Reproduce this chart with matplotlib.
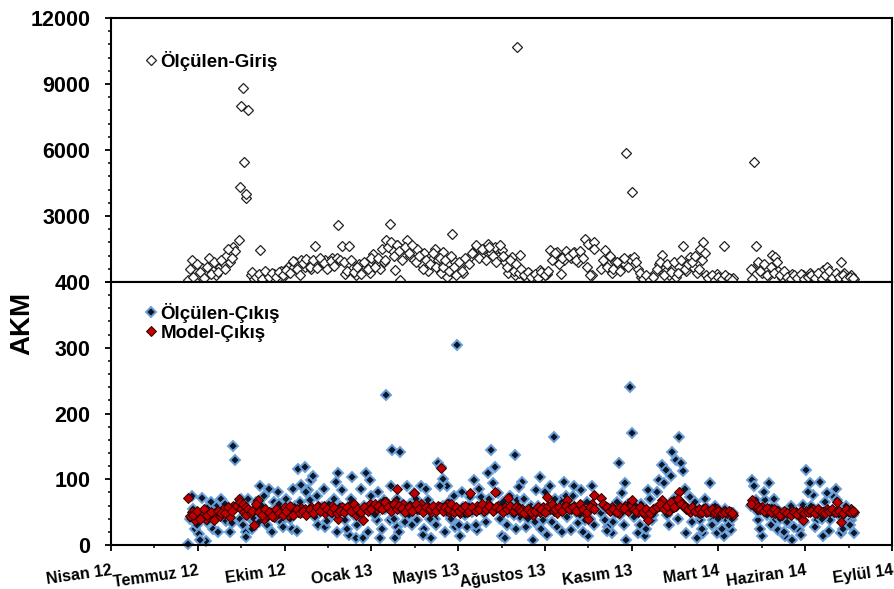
import matplotlib
matplotlib.use("Agg")
import matplotlib.pyplot as plt
import matplotlib.dates as mdates
from matplotlib.ticker import MultipleLocator
import numpy as np

plt.rcParams["font.family"] = ["Liberation Sans", "DejaVu Sans"]
plt.rcParams["font.weight"] = "bold"

# axis start (Excel date axis, major unit 100 days)
start = np.datetime64("2012-04-01")
tick_labels = ["Nisan 12", "Temmuz 12", "Ekim 12", "Ocak 13", "Mayıs 13",
               "Ağustos 13", "Kasım 13", "Mart 14", "Haziran 14", "Eylül 14"]

# sample dates as days after 2012-04-01
days = [89, 93, 97, 101, 105, 109, 113, 117, 121, 125,
        129, 133, 137, 141, 143, 147, 149, 150, 152, 153,
        155, 156, 158, 161, 165, 169, 172, 176, 180, 184,
        188, 192, 196, 200, 204, 208, 212, 216, 219, 223,
        227, 231, 235, 239, 243, 247, 251, 255, 259, 262,
        266, 270, 274, 278, 282, 286, 290, 294, 298, 302,
        306, 310, 314, 317, 321, 324, 327, 330, 333, 337,
        341, 345, 349, 353, 357, 361, 365, 369, 373, 377,
        380, 383, 387, 390, 393, 396, 399, 402, 406, 410,
        414, 418, 422, 426, 430, 434, 438, 442, 446, 450,
        454, 458, 462, 465, 468, 471, 474, 478, 482, 486,
        490, 494, 498, 502, 506, 510, 514, 518, 522, 526,
        530, 534, 538, 542, 546, 550, 554, 557, 565, 569,
        573, 577, 581, 585, 589, 592, 594, 596, 598, 600,
        603, 607, 611, 615, 619, 623, 627, 631, 635, 639,
        643, 647, 651, 655, 659, 663, 667, 671, 675, 679,
        682, 686, 690, 694, 698, 702, 706, 710, 714, 717,
        739, 741, 743, 746, 750, 754, 758, 762, 765, 769,
        773, 777, 781, 785, 789, 793, 797, 801, 805, 809,
        813, 817, 821, 825, 829, 833, 837, 841, 845, 849, 853, 856,
        # in-between readings
        91, 95, 99, 103, 107, 111, 115, 119, 123, 127,
        131, 135, 139, 163, 167, 171, 174, 178, 182, 186,
        190, 194, 198, 202, 206, 210, 214, 218, 221, 225,
        229, 233, 237, 241, 245, 249, 253, 257, 260, 264,
        268, 272, 276, 280, 284, 288, 292, 296, 300, 304,
        308, 312, 316, 319, 323, 326, 329, 332, 335, 339,
        343, 347, 351, 355, 359, 363, 367, 371, 375, 379,
        382, 385, 389, 392, 395, 398, 401, 404, 408, 412,
        416, 420, 424, 428, 432, 436, 440, 444, 448, 452,
        456, 460, 464, 467, 470, 473, 476, 480, 484, 488,
        492, 496, 500, 504, 508, 512, 516, 520, 524, 528,
        532, 536, 540, 544, 548, 552, 556, 567, 571, 575,
        579, 583, 587, 591, 605, 609, 613, 617, 621, 625,
        629, 633, 637, 641, 645, 649, 653, 657, 661, 665,
        669, 673, 677, 681, 684, 688, 692, 696, 700, 704,
        708, 712, 716, 737, 745, 748, 752, 756, 760, 764,
        767, 771, 775, 779, 783, 787, 791, 795, 799, 803,
        807, 811, 815, 819, 823, 827, 831, 835, 839, 843, 847, 851, 855]

giris = [100, 985, 450, 300, 650, 380, 1100, 520, 300, 700,
         850, 1200, 900, 1590, 1400, 1900, 4300, 8000, 8800, 5450,
         3800, 4000, 7800, 300, 150, 200, 1450, 250, 400, 150,
         350, 200, 500, 300, 700, 600, 900, 750, 1000, 700,
         950, 600, 1636, 800, 900, 1000, 700, 1100, 900, 2575,
         1636, 380, 1636, 600, 300, 800, 500, 700, 400, 1288,
         800, 600, 900, 1890, 2650, 1440, 530, 1670, 75, 1500,
         1890, 1200, 985, 1500, 800, 1300, 500, 1000, 1515, 985,
         400, 1364, 230, 800, 2200, 900, 500, 700, 400, 1000,
         1136, 1400, 1600, 1200, 1500, 1740, 1300, 1600, 1136, 1440,
         900, 400, 1136, 300, 10700, 1212, 500, 200, 400, 150,
         300, 530, 250, 350, 1440, 1288, 1364, 380, 1000, 1300,
         1100, 1364, 900, 1200, 1970, 1740, 300, 1818, 600, 1440,
         800, 400, 900, 600, 1000, 800, 5850, 700, 1060, 4100,
         1136, 600, 230, 150, 75, 200, 400, 830, 1212, 500,
         300, 600, 230, 700, 1620, 500, 1136, 700, 400, 1515,
         1818, 300, 200, 150, 380, 100, 1620, 250, 150, 200,
         150, 5450, 1620, 830, 400, 600, 300, 1212, 1136, 500,
         200, 300, 150, 380, 250, 100, 300, 200, 400, 150,
         300, 200, 530, 680, 250, 150, 300, 900, 400, 200, 300, 150,
         # in-between readings
         600, 250, 800, 450, 200, 700, 350, 900, 450, 1000,
         600, 1500, 1100, 450, 250, 350, 150, 500, 250, 400,
         250, 450, 300, 550, 400, 950, 600, 300, 850, 1050,
         700, 1000, 650, 1100, 850, 600, 950, 750, 1100, 1000,
         900, 500, 1000, 450, 700, 350, 900, 600, 1100, 700,
         1100, 1500, 1000, 1600, 1800, 1200, 1700, 1400, 1000, 1600,
         1300, 1700, 900, 1200, 600, 1000, 800, 1300, 700, 1100,
         700, 1000, 500, 1200, 700, 300, 900, 500, 1100, 800,
         1300, 1700, 1100, 1500, 1000, 1600, 1200, 900, 1700, 1200,
         700, 1000, 500, 800, 400, 600, 300, 450, 250, 350,
         200, 450, 300, 500, 1000, 1300, 800, 1100, 1400, 1200,
         1300, 1000, 1400, 1100, 700, 300, 1500, 1000, 700, 1200,
         600, 900, 500, 1100, 900, 400, 150, 300, 100, 250,
         600, 900, 300, 800, 450, 900, 400, 1000, 600, 800,
         900, 1200, 600, 1000, 1300, 200, 300, 100, 250, 150,
         300, 200, 100, 600, 900, 500, 800, 300, 700, 400,
         900, 300, 500, 250, 150, 300, 200, 350, 150, 250,
         300, 200, 400, 150, 300, 500, 200, 400, 250, 300, 150, 250, 200]

cikis = [2, 75, 24, 16, 72, 6, 60, 24, 60, 45,
         55, 37, 20, 150, 129, 62, 40, 70, 30, 55,
         20, 12, 70, 40, 40, 55, 90, 75, 30, 50,
         66, 80, 35, 55, 45, 24, 60, 115, 92, 119,
         84, 99, 43, 30, 58, 28, 63, 45, 96, 109,
         84, 38, 15, 104, 10, 46, 10, 109, 99, 58,
         38, 10, 68, 228, 38, 144, 10, 28, 142, 50,
         89, 63, 79, 38, 89, 25, 68, 10, 40, 124,
         119, 101, 89, 45, 38, 28, 304, 13, 58, 28,
         73, 99, 23, 73, 48, 109, 144, 119, 79, 13,
         10, 50, 60, 137, 68, 43, 96, 28, 55, 8,
         84, 104, 38, 15, 89, 165, 28, 68, 96, 43,
         23, 89, 33, 84, 38, 13, 89, 58, 48, 38,
         28, 18, 48, 124, 79, 94, 8, 63, 240, 170,
         43, 18, 63, 13, 84, 38, 55, 99, 122, 114,
         30, 142, 129, 165, 112, 18, 73, 58, 10, 38,
         18, 58, 94, 38, 18, 48, 13, 38, 23, 48,
         99, 89, 68, 38, 13, 68, 94, 58, 38, 23,
         48, 13, 33, 8, 48, 23, 61, 114, 94, 76,
         38, 96, 13, 79, 38, 73, 68, 18, 33, 53, 38, 18,
         # in-between readings
         40, 55, 30, 8, 48, 35, 65, 50, 20, 70,
         62, 45, 33, 25, 65, 35, 60, 40, 85, 20,
         50, 62, 28, 70, 40, 85, 22, 65, 50, 80,
         68, 105, 75, 50, 85, 36, 55, 70, 20, 60,
         55, 25, 70, 45, 30, 85, 60, 20, 75, 45,
         80, 25, 55, 60, 90, 40, 70, 20, 60, 35,
         45, 30, 70, 55, 15, 85, 40, 55, 30, 90,
         60, 20, 65, 40, 75, 55, 30, 80, 45, 60,
         50, 30, 85, 60, 35, 70, 95, 55, 40, 65,
         30, 75, 45, 25, 88, 55, 70, 40, 60, 35,
         60, 25, 80, 50, 35, 70, 55, 20, 75, 60,
         75, 50, 45, 20, 65, 40, 30, 60, 22, 55,
         35, 65, 45, 30, 60, 30, 50, 25, 70, 45,
         80, 60, 95, 45, 105, 70, 40, 124, 85, 55,
         35, 65, 45, 25, 70, 50, 30, 60, 40, 25,
         55, 30, 40, 60, 50, 25, 80, 45, 30, 70,
         55, 40, 20, 35, 60, 28, 45, 15, 35, 80,
         60, 28, 55, 40, 65, 22, 50, 85, 45, 25, 60, 30, 45]

model = [71, 50, 38, 44, 49, 40, 42, 46, 50, 44,
         55, 50, 42, 60, 58, 70, 66, 55, 62, 50,
         58, 45, 55, 48, 30, 68, 52, 40, 45, 48,
         42, 55, 50, 58, 45, 52, 48, 50, 56, 55,
         50, 58, 52, 60, 55, 48, 55, 60, 50, 39,
         58, 52, 60, 55, 45, 50, 38, 55, 62, 60,
         55, 63, 58, 65, 55, 60, 66, 85, 58, 62,
         56, 60, 79, 55, 62, 55, 58, 50, 55, 60,
         117, 55, 62, 50, 58, 52, 55, 48, 55, 50,
         79, 55, 60, 58, 52, 62, 58, 81, 60, 55,
         58, 71, 52, 55, 60, 50, 55, 48, 52, 46,
         55, 50, 58, 73, 55, 52, 48, 55, 60, 68,
         55, 60, 52, 58, 48, 40, 62, 76, 71, 60,
         55, 58, 52, 48, 55, 60, 55, 52, 58, 68,
         55, 50, 58, 45, 38, 52, 55, 60, 68, 55,
         52, 58, 60, 81, 62, 55, 50, 55, 52, 48,
         55, 50, 52, 48, 55, 50, 52, 48, 50, 45,
         68, 60, 62, 55, 58, 52, 55, 50, 48, 52,
         45, 50, 48, 52, 50, 45, 38, 52, 50, 55,
         48, 52, 50, 55, 52, 50, 66, 35, 48, 52, 54, 50,
         # in-between readings
         44, 46, 52, 40, 55, 46, 50, 38, 52, 48,
         48, 58, 52, 52, 62, 50, 45, 55, 50, 44,
         55, 48, 45, 52, 60, 45, 55, 48, 52, 45,
         55, 48, 58, 52, 60, 55, 50, 56, 48, 52,
         50, 58, 52, 62, 55, 50, 58, 52, 55, 62,
         60, 55, 65, 58, 52, 62, 55, 60, 56, 50,
         58, 52, 62, 55, 50, 58, 55, 60, 52, 58,
         52, 58, 55, 62, 50, 58, 52, 56, 60, 52,
         58, 52, 55, 62, 55, 60, 52, 58, 55, 50,
         55, 60, 52, 58, 55, 52, 48, 55, 50, 52,
         58, 55, 50, 60, 62, 55, 58, 52, 60, 55,
         58, 52, 62, 55, 50, 58, 55, 62, 58, 52,
         55, 50, 58, 56, 52, 58, 50, 55, 48, 55,
         58, 62, 55, 60, 65, 58, 70, 62, 58, 55,
         58, 52, 55, 50, 56, 52, 55, 50, 52, 48,
         50, 52, 48, 62, 58, 55, 52, 56, 50, 55,
         50, 46, 52, 48, 45, 50, 47, 52, 48, 50,
         52, 48, 55, 50, 48, 52, 55, 50, 52, 48, 55, 50, 52]

x = mdates.date2num(start + np.array(days).astype("timedelta64[D]"))
x_lo = mdates.date2num(start)
x_hi = mdates.date2num(start + np.timedelta64(900, "D"))
major_x = mdates.date2num(start + np.arange(0, 901, 100).astype("timedelta64[D]"))
minor_x = mdates.date2num(start + np.arange(50, 900, 100).astype("timedelta64[D]"))

fig = plt.figure(figsize=(8.94, 5.89), dpi=100)
ax_top = fig.add_axes([0.1242, 0.5212, 0.8736, 0.4482])
ax_bot = fig.add_axes([0.1242, 0.0747, 0.8736, 0.4465])

for ax in (ax_top, ax_bot):
    for side in ax.spines.values():
        side.set_linewidth(1.5)
    ax.set_xlim(x_lo, x_hi)
    ax.tick_params(axis="y", which="major", length=4, width=1.3, pad=11,
                   labelsize=15.5)
    ax.tick_params(axis="y", which="minor", length=2.5, width=1.1)

# upper panel: inflow
ax_top.plot(x, giris, linestyle="none", marker="D", markersize=4.6,
            markerfacecolor="white", markeredgecolor="#222222",
            markeredgewidth=0.9, clip_on=False, label="Ölçülen-Giriş")
ax_top.set_ylim(0, 12000)
ax_top.set_yticks([0, 3000, 6000, 9000, 12000])
# the 0 of this panel sits under the 400 of the lower one
ax_top.set_yticklabels(["", "3000", "6000", "9000", "12000"])
ax_top.yaxis.set_minor_locator(MultipleLocator(600))
ax_top.tick_params(axis="x", which="both", bottom=False, labelbottom=False)
ax_top.legend(loc="upper left", bbox_to_anchor=(0.043, 0.875), frameon=False,
              fontsize=13.5, handlelength=0.7, handletextpad=0.15,
              borderpad=0, borderaxespad=0)

# lower panel: outflow measured and model
ax_bot.plot(x, cikis, linestyle="none", marker="D", markersize=4.8,
            markerfacecolor="#0b1626", markeredgecolor="#6b9fd9",
            markeredgewidth=1.4, clip_on=False, label="Ölçülen-Çıkış")
ax_bot.plot(x, model, linestyle="none", marker="D", markersize=5.0,
            markerfacecolor="#c00000", markeredgecolor="#2a0000",
            markeredgewidth=0.7, clip_on=False, label="Model-Çıkış")
ax_bot.set_ylim(0, 400)
ax_bot.set_yticks([0, 100, 200, 300, 400])
ax_bot.yaxis.set_minor_locator(MultipleLocator(20))
ax_bot.set_xticks(major_x)
ax_bot.set_xticks(minor_x, minor=True)
ax_bot.set_xticklabels(tick_labels, rotation=8, ha="right",
                       rotation_mode="anchor", fontsize=11.5)
ax_bot.tick_params(axis="x", which="major", length=4, width=1.3, pad=9)
ax_bot.tick_params(axis="x", which="minor", length=2.5, width=1.1)
ax_bot.legend(loc="upper left", bbox_to_anchor=(0.043, 0.921), frameon=False,
              fontsize=13.5, handlelength=0.7, handletextpad=0.15,
              labelspacing=0.1, borderpad=0, borderaxespad=0)

fig.text(22 / 894, 1 - 323 / 589, "AKM", rotation=90, ha="center",
         va="center", fontsize=20, fontweight="bold")

fig.savefig("out.png", dpi=100)
